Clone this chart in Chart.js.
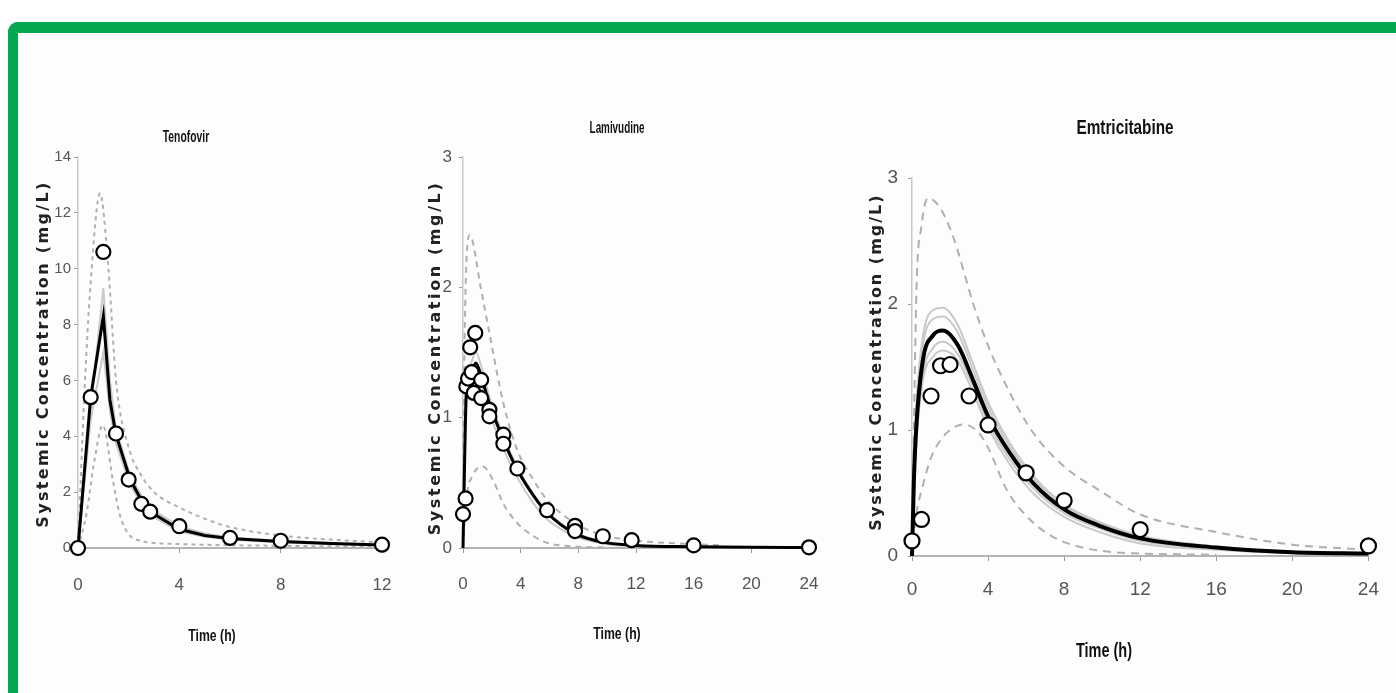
<!DOCTYPE html>
<html>
<head>
<meta charset="utf-8">
<script src="https://cdn.jsdelivr.net/npm/chart.js@4.4.1/dist/chart.umd.min.js"></script>
<style>
  html, body { margin:0; padding:0; background:#ffffff; width:1396px; height:693px; overflow:hidden; }
  #frame { position:absolute; left:8px; top:22px; width:1400px; height:700px;
           border-top:11px solid #03a84e; border-left:10px solid #03a84e;
           border-top-left-radius:10px; background:#fdfdfd; }
  canvas { position:absolute; left:0; top:0; }
</style>
</head>
<body>
<div id="frame"></div>
<canvas id="c1" width="1396" height="693"></canvas>
<canvas id="c2" width="1396" height="693"></canvas>
<canvas id="c3" width="1396" height="693"></canvas>
<script>
// ---------------- Tenofovir ----------------
const tdfXTicks = [0, 4, 8, 12];
const tdfYTicks = [0, 2, 4, 6, 8, 10, 12, 14];
const tdfObsT  = [0, 0.5, 1, 1.5, 2, 2.5, 2.85, 4, 6, 8, 12];
const tdfObsC  = [0, 5.4, 10.6, 4.1, 2.45, 1.58, 1.3, 0.78, 0.36, 0.26, 0.12];
const tdfMeanT = [0, 0.5, 1, 1.26, 1.5, 2.06, 2.6, 2.92, 3.98, 5, 6, 8, 10, 12];
const tdfMeanC = [0, 5.4, 8.3, 5.3, 4.05, 2.45, 1.55, 1.26, 0.68, 0.45, 0.34, 0.23, 0.16, 0.11];
const tdfSimA  = [0, 5.0, 9.3, 6.0, 4.25, 2.6, 1.7, 1.38, 0.78, 0.52, 0.38, 0.26, 0.18, 0.12];
const tdfSimB  = [0, 4.6, 7.0, 4.9, 3.75, 2.25, 1.45, 1.15, 0.6, 0.4, 0.3, 0.2, 0.14, 0.1];
const tdfHiT   = [0, 0.25, 0.5, 0.87, 1.2, 1.5, 2, 2.5, 3, 4, 5, 6, 8, 10, 12];
const tdfHiC   = [0, 5.5, 9.5, 12.7, 10.0, 6.0, 3.6, 2.6, 2.0, 1.45, 1.05, 0.75, 0.45, 0.3, 0.2];
const tdfLoT   = [0, 0.33, 0.66, 0.98, 1.38, 1.64, 1.97, 2.56, 3, 4, 6, 8, 10, 12];
const tdfLoC   = [0, 1.2, 3.2, 4.4, 2.4, 1.23, 0.53, 0.24, 0.18, 0.14, 0.1, 0.08, 0.06, 0.05];

// ---------------- Lamivudine ----------------
const lamXTicks = [0, 4, 8, 12, 16, 20, 24];
const lamYTicks = [0, 1, 2, 3];
const lamObsT  = [0, 0.18, 0.23, 0.35, 0.5, 0.6, 0.85, 0.75, 1.26, 1.26, 1.83, 1.83, 2.8, 2.8, 3.77, 5.83, 7.77, 7.77, 9.7, 11.7, 16, 24];
const lamObsC  = [0.26, 0.38, 1.24, 1.3, 1.54, 1.35, 1.65, 1.19, 1.29, 1.15, 1.06, 1.01, 0.87, 0.8, 0.61, 0.29, 0.17, 0.13, 0.09, 0.06, 0.02, 0.005];
const lamMeanT = [0, 0.1, 0.23, 0.5, 0.9, 1.3, 1.83, 2.8, 3.77, 4.9, 5.83, 7.77, 9.7, 12, 16, 20, 24];
const lamMeanC = [0, 0.6, 1.19, 1.33, 1.42, 1.3, 1.11, 0.83, 0.6, 0.4, 0.27, 0.11, 0.045, 0.02, 0.01, 0.005, 0.003];
const lamSimA  = [0, 0.65, 1.25, 1.4, 1.5, 1.38, 1.16, 0.86, 0.62, 0.41, 0.28, 0.12, 0.05, 0.022, 0.01, 0.005, 0.003];
const lamSimB  = [0, 0.55, 1.12, 1.28, 1.36, 1.24, 1.04, 0.76, 0.54, 0.34, 0.22, 0.09, 0.035, 0.015, 0.008, 0.004, 0.002];
const lamHiT   = [0, 0.11, 0.46, 1.26, 1.83, 2.8, 3.77, 4.9, 5.83, 7.77, 9.7, 11.7, 14, 16, 18];
const lamHiC   = [0, 1.6, 2.4, 1.98, 1.65, 1.11, 0.75, 0.52, 0.37, 0.19, 0.1, 0.06, 0.04, 0.03, 0.02];
const lamLoT   = [0, 0.23, 0.69, 1.37, 2.17, 2.8, 3.77, 4.9, 5.83, 8, 10];
const lamLoC   = [0, 0.37, 0.56, 0.625, 0.5, 0.34, 0.19, 0.09, 0.04, 0.01, 0.005];

// ---------------- Emtricitabine ----------------
const ftcXTicks = [0, 4, 8, 12, 16, 20, 24];
const ftcYTicks = [0, 1, 2, 3];
const ftcObsT  = [0, 0.5, 1, 1.5, 2, 3, 4, 6, 8, 12, 24];
const ftcObsC  = [0.12, 0.29, 1.27, 1.51, 1.52, 1.27, 1.04, 0.66, 0.44, 0.21, 0.08];
const ftcMeanT = [0, 0.1, 0.23, 0.58, 1.1, 1.63, 2.42, 3.2, 4, 5.13, 6.36, 8, 9.86, 12, 16, 20, 24];
const ftcMeanC = [0, 0.6, 1.03, 1.56, 1.75, 1.79, 1.67, 1.40, 1.11, 0.82, 0.58, 0.37, 0.24, 0.14, 0.067, 0.03, 0.02];
const ftcSimA  = [0, 0.7, 1.2, 1.75, 1.95, 1.97, 1.83, 1.53, 1.22, 0.9, 0.64, 0.41, 0.27, 0.16, 0.075, 0.034, 0.022];
const ftcSimB  = [0, 0.66, 1.15, 1.68, 1.88, 1.9, 1.77, 1.48, 1.18, 0.87, 0.62, 0.4, 0.26, 0.15, 0.07, 0.032, 0.02];
const ftcSimC  = [0, 0.55, 0.95, 1.45, 1.65, 1.7, 1.6, 1.35, 1.06, 0.77, 0.54, 0.34, 0.22, 0.12, 0.058, 0.026, 0.017];
const ftcSimD  = [0, 0.5, 0.9, 1.4, 1.58, 1.63, 1.55, 1.3, 1.02, 0.73, 0.5, 0.31, 0.19, 0.1, 0.05, 0.022, 0.015];
const ftcHiT   = [0, 0.23, 0.5, 0.84, 1.4, 2, 2.33, 3.2, 4, 5.13, 6.36, 8, 9.86, 12, 16, 20, 24];
const ftcHiC   = [0, 2.09, 2.62, 2.84, 2.78, 2.6, 2.46, 2.01, 1.67, 1.30, 0.98, 0.71, 0.52, 0.33, 0.19, 0.09, 0.05];
const ftcLoT   = [0, 0.25, 0.5, 1, 1.5, 2, 2.7, 3.5, 4, 5, 6, 7, 8, 10, 12, 16];
const ftcLoC   = [0, 0.35, 0.52, 0.78, 0.92, 1.0, 1.045, 0.98, 0.86, 0.52, 0.32, 0.19, 0.11, 0.04, 0.02, 0.01];

const Y_TITLE = 'Systemic Concentration (mg/L)';
const X_TITLE = 'Time (h)';

// ---------- helpers ----------
const W = 1396, H = 693;
const Y_BOX = 70, X_BOX = 80;   // reserved axis box sizes
const pts = (t, c) => t.map((x, i) => ({ x: x, y: c[i] }));
const SANS = '"Liberation Sans", Arial, sans-serif';

const panelText = {
  id: 'panelText',
  afterDraw(chart, args, opts) {
    const ctx = chart.ctx;
    (opts.items || []).forEach(it => {
      ctx.save();
      ctx.font = it.font;
      ctx.fillStyle = it.color || '#111';
      ctx.textAlign = 'center';
      ctx.textBaseline = 'middle';
      ctx.letterSpacing = it.spacing || '0px';
      ctx.translate(it.x, it.y);
      if (it.rot) ctx.rotate(it.rot);
      if (it.sx) ctx.scale(it.sx, 1);
      ctx.fillText(it.text, 0, 0);
      ctx.restore();
    });
  }
};

function obsSet(t, c, r) {
  return { data: pts(t, c), showLine: false, pointRadius: r, pointHoverRadius: r,
           pointBackgroundColor: '#ffffff', pointBorderColor: '#000000', pointBorderWidth: 2.2,
           borderColor: '#000', backgroundColor: '#fff', clip: false, order: 0 };
}
function lineSet(t, c, color, width, dash, order, interp) {
  return { data: pts(t, c), borderColor: color, borderWidth: width, borderDash: dash || [],
           pointRadius: 0, fill: false, clip: false, order: order,
           tension: interp === 'linear' ? 0 : 0.4,
           cubicInterpolationMode: interp === 'linear' ? 'default' : 'monotone' };
}

function makePanel(id, p) {
  const tickFont = { family: SANS, size: p.tickSize };
  new Chart(document.getElementById(id), {
    type: 'line',
    data: { datasets: p.datasets },
    options: {
      responsive: false, animation: false, events: [],
      layout: { padding: { left: p.area.left - Y_BOX, right: W - p.area.right,
                           top: p.area.top, bottom: H - p.area.bottom - X_BOX } },
      plugins: { legend: { display: false }, tooltip: { enabled: false }, title: { display: false },
                 panelText: { items: p.texts } },
      scales: {
        x: { type: 'linear', min: 0, max: p.xTicks[p.xTicks.length - 1],
             afterFit: s => { s.height = X_BOX; },
             afterBuildTicks: s => { s.ticks = p.xTicks.map(v => ({ value: v })); },
             grid: { drawOnChartArea: false, drawTicks: true, tickLength: 5, color: '#9a9a9a', lineWidth: 1 },
             border: { display: true, color: '#b4b4b4', width: 2 },
             ticks: { font: tickFont, color: '#555', padding: p.xPad, maxRotation: 0, autoSkip: false } },
        y: { type: 'linear', min: 0, max: p.yTicks[p.yTicks.length - 1],
             afterFit: s => { s.width = Y_BOX; },
             afterBuildTicks: s => { s.ticks = p.yTicks.map(v => ({ value: v })); },
             grid: { drawOnChartArea: false, drawTicks: true, tickLength: 4, color: '#9a9a9a', lineWidth: 1 },
             border: { display: true, color: '#c8c8c8', width: 1.5 },
             ticks: { font: { family: SANS, size: p.yTickSize || p.tickSize }, color: '#555', padding: p.yPad, autoSkip: false } }
      }
    },
    plugins: [panelText]
  });
}

const GRAY = '#c9c9c9', DASH = '#b0b0b0';
const yTitleFont = 'bold 16px "DejaVu Sans", sans-serif';

makePanel('c1', {
  area: { left: 78, right: 382, top: 157, bottom: 548 },
  xTicks: tdfXTicks, yTicks: tdfYTicks, tickSize: 17, yTickSize: 15, xPad: 22, yPad: 3,
  datasets: [
    obsSet(tdfObsT, tdfObsC, 7),
    lineSet(tdfMeanT, tdfMeanC, '#000', 3, [], 1, 'linear'),
    lineSet(tdfHiT, tdfHiC, DASH, 2, [4, 4], 2),
    lineSet(tdfLoT, tdfLoC, DASH, 2, [4, 4], 2),
    lineSet(tdfMeanT, tdfSimA, GRAY, 2, [], 3, 'linear'),
    lineSet(tdfMeanT, tdfSimB, GRAY, 2, [], 3, 'linear')
  ],
  texts: [
    { text: 'Tenofovir', x: 186, y: 137, font: 'bold 17px ' + SANS, sx: 0.61 },
    { text: X_TITLE, x: 212, y: 636, font: 'bold 17px ' + SANS, sx: 0.72 },
    { text: Y_TITLE, x: 44, y: 354, rot: -Math.PI / 2, font: yTitleFont, spacing: '2.35px', color: '#222' }
  ]
});

makePanel('c2', {
  area: { left: 463, right: 809, top: 157, bottom: 548 },
  xTicks: lamXTicks, yTicks: lamYTicks, tickSize: 17, xPad: 21, yPad: 7,
  datasets: [
    obsSet(lamObsT, lamObsC, 7),
    lineSet(lamMeanT, lamMeanC, '#000', 3, [], 1),
    lineSet(lamHiT, lamHiC, DASH, 2, [6, 5], 2),
    lineSet(lamLoT, lamLoC, DASH, 2, [6, 5], 2),
    lineSet(lamMeanT, lamSimA, GRAY, 2, [], 3),
    lineSet(lamMeanT, lamSimB, GRAY, 2, [], 3)
  ],
  texts: [
    { text: 'Lamivudine', x: 617, y: 128, font: 'bold 17px ' + SANS, sx: 0.58 },
    { text: X_TITLE, x: 617, y: 634, font: 'bold 17px ' + SANS, sx: 0.72 },
    { text: Y_TITLE, x: 436, y: 358, rot: -Math.PI / 2, font: yTitleFont, spacing: '2.6px', color: '#222' }
  ]
});

makePanel('c3', {
  area: { left: 912, right: 1370, top: 178, bottom: 556 },
  xTicks: ftcXTicks, yTicks: ftcYTicks, tickSize: 19, xPad: 17, yPad: 10,
  datasets: [
    obsSet(ftcObsT, ftcObsC, 7.5),
    lineSet(ftcMeanT, ftcMeanC, '#000', 4, [], 1),
    lineSet(ftcHiT, ftcHiC, DASH, 2, [8, 6], 2),
    lineSet(ftcLoT, ftcLoC, DASH, 2, [8, 6], 2),
    lineSet(ftcMeanT, ftcSimA, GRAY, 2, [], 3),
    lineSet(ftcMeanT, ftcSimB, GRAY, 2, [], 3),
    lineSet(ftcMeanT, ftcSimC, GRAY, 2, [], 3),
    lineSet(ftcMeanT, ftcSimD, GRAY, 2, [], 3)
  ],
  texts: [
    { text: 'Emtricitabine', x: 1125, y: 128, font: 'bold 21px ' + SANS, sx: 0.73 },
    { text: X_TITLE, x: 1104, y: 651, font: 'bold 21px ' + SANS, sx: 0.69 },
    { text: Y_TITLE, x: 877, y: 362, rot: -Math.PI / 2, font: yTitleFont, spacing: '2.0px', color: '#222' }
  ]
});
</script>
</body>
</html>
